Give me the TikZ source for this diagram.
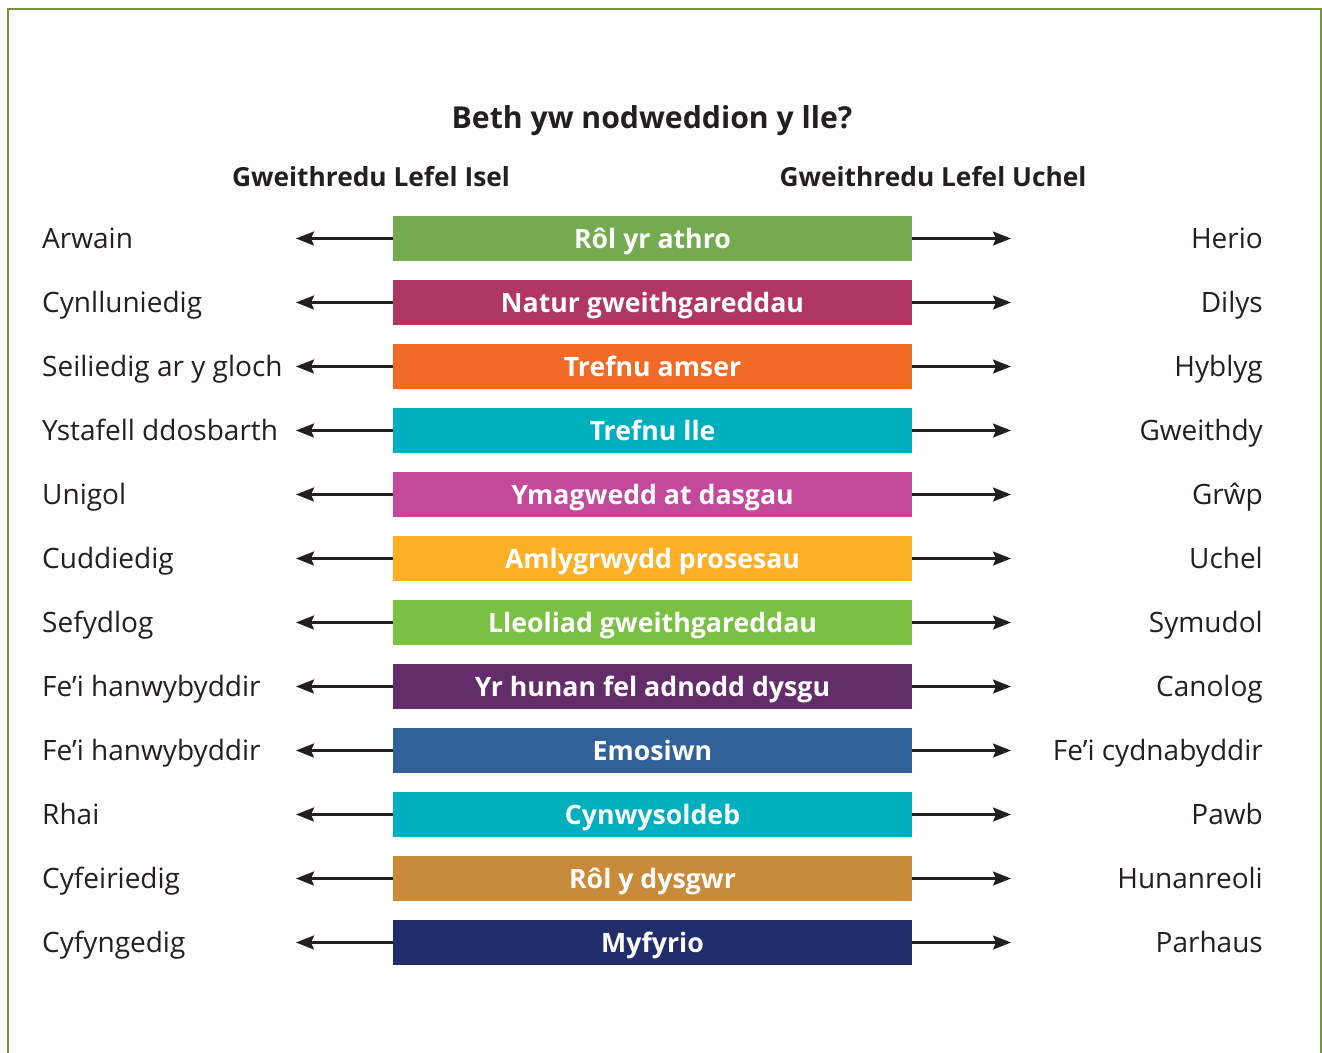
\documentclass[tikz,border=0pt]{standalone}
\usepackage{fontspec}
\setmainfont{Open Sans}
\usetikzlibrary{arrows.meta}
\definecolor{ink}{HTML}{231F20}
\definecolor{framegreen}{HTML}{77933C}
\definecolor{cA}{HTML}{74AA50}
\definecolor{cB}{HTML}{B03762}
\definecolor{cC}{HTML}{F26B26}
\definecolor{cD}{HTML}{00AFBE}
\definecolor{cE}{HTML}{C4499B}
\definecolor{cF}{HTML}{FBB026}
\definecolor{cG}{HTML}{7AC143}
\definecolor{cH}{HTML}{632D69}
\definecolor{cI}{HTML}{316199}
\definecolor{cJ}{HTML}{00AFBE}
\definecolor{cK}{HTML}{C98B3A}
\definecolor{cL}{HTML}{222D6B}
\tikzset{
  frame/.style={draw=framegreen, line width=2pt},
  bar/.style={minimum width=519pt, minimum height=45pt, inner sep=0pt, text=white,
    text height=22pt, text depth=2pt,
    font=\bfseries\fontsize{26.7}{27}\selectfont},
  lbl/.style={inner sep=0pt, text=ink, font=\fontsize{28}{28}\selectfont},
  head/.style={inner sep=0pt, text=ink, font=\bfseries\fontsize{26.3}{27}\selectfont},
  arr/.style={draw=ink, line width=2.4pt, -{Stealth[length=18pt,width=14pt,inset=3pt]}}
}
\begin{document}
\begin{tikzpicture}[x=1pt,y=-1pt]
\useasboundingbox (0,0) rectangle (1322,1052);
\draw[frame] (8,1053) -- (8,9) -- (1321,9) -- (1321,1053);
\node[head, anchor=base, font=\bfseries\fontsize{30.2}{31}\selectfont] (title) at (652,128) {Beth yw nodweddion y lle?};
\node[head, anchor=base] (hlow) at (371,186) {Gweithredu Lefel Isel};
\node[head, anchor=base] (hhigh) at (933,186) {Gweithredu Lefel Uchel};
\foreach \l/\m/\r/\c [count=\i from 0] in {
  Arwain/Rôl yr athro/Herio/cA,
  Cynlluniedig/Natur gweithgareddau/Dilys/cB,
  Seiliedig ar y gloch/Trefnu amser/Hyblyg/cC,
  Ystafell ddosbarth/Trefnu lle/Gweithdy/cD,
  Unigol/Ymagwedd at dasgau/Grŵp/cE,
  Cuddiedig/Amlygrwydd prosesau/Uchel/cF,
  Sefydlog/Lleoliad gweithgareddau/Symudol/cG,
  Fe’i hanwybyddir/Yr hunan fel adnodd dysgu/Canolog/cH,
  Fe’i hanwybyddir/Emosiwn/Fe’i cydnabyddir/cI,
  Rhai/Cynwysoldeb/Pawb/cJ,
  Cyfeiriedig/Rôl y dysgwr/Hunanreoli/cK,
  Cyfyngedig/Myfyrio/Parhaus/cL}
{
  \node[bar, fill=\c] (box\i) at (652.5,{238.5+64*\i}) {\m};
  \coordinate (la\i) at (296,{238.5+64*\i});
  \coordinate (ra\i) at (1011,{238.5+64*\i});
  \draw[arr] (box\i.west) -- (la\i);
  \draw[arr] (box\i.east) -- (ra\i);
  \node[lbl, anchor=base west] (l\i) at (42,{248+64*\i}) {\l};
  \node[lbl, anchor=base east] (r\i) at (1263,{248+64*\i}) {\r};
}
\end{tikzpicture}
\end{document}
